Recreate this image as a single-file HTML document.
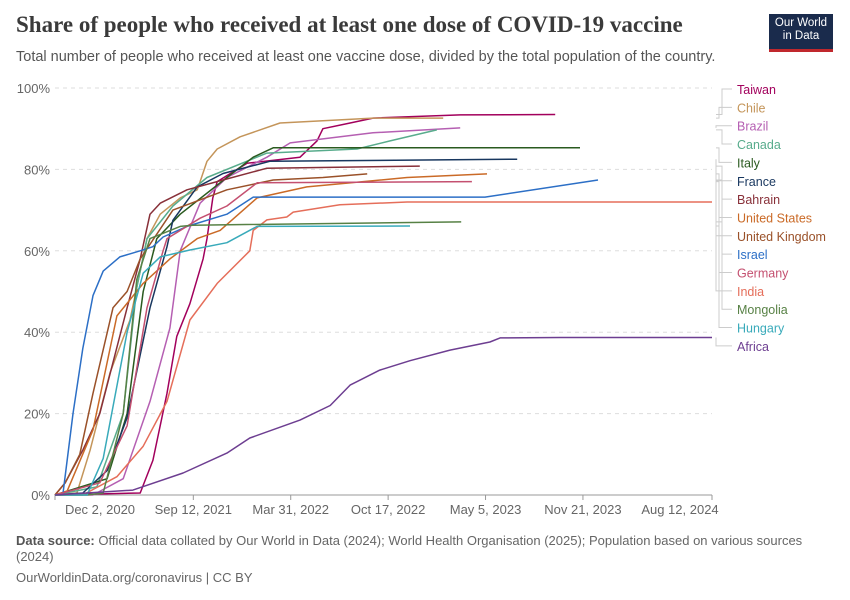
<!DOCTYPE html>
<html><head><meta charset="utf-8">
<style>
body{margin:0;background:#fff;font-family:"Liberation Sans",sans-serif;}
#wrap{position:relative;width:850px;height:600px;overflow:hidden;}
.t{position:absolute;white-space:nowrap;}
</style></head><body>
<div id="wrap">
<div class="t" style="left:16px;top:12px;font-family:'Liberation Serif',serif;font-size:23px;color:#3a3a3a;font-weight:bold;">Share of people who received at least one dose of COVID-19 vaccine</div>
<div class="t" style="left:16px;top:49px;font-size:14.5px;color:#555;">Total number of people who received at least one vaccine dose, divided by the total population of the country.</div>
<div style="position:absolute;left:769px;top:14px;width:64px;height:38px;background:#1a2b4c;border-bottom:3px solid #c0282d;color:#fff;font-size:11.5px;line-height:13px;text-align:center;padding-top:3px;box-sizing:border-box;">Our World<br>in Data</div>
<svg id="chart" width="850" height="600" style="position:absolute;left:0;top:0;"></svg>
<div class="t" style="left:16px;top:533px;font-size:13px;color:#666;line-height:16px;"><b style="color:#555">Data source:</b> Official data collated by Our World in Data (2024); World Health Organisation (2025); Population based on various sources<br>(2024)</div>
<div class="t" style="left:16px;top:570px;font-size:13px;color:#666;">OurWorldinData.org/coronavirus | CC BY</div>
</div>
<script>
const names=["Taiwan","Chile","Brazil","Canada","Italy","France","Bahrain","United States","United Kingdom","Israel","Germany","India","Mongolia","Hungary","Africa"];
const colors=["#a2005c","#c4955a","#b55fb2","#58ac8c","#2a5a1f","#18375f","#883039","#ca6a27","#9a5129","#2c6fc6","#c45070","#e56e5a","#578145","#38aaba","#6d3e91"];
const days=[
[0,175,201,230,250,277,304,312,324,333,394,503,538,550,606,653,832,1027],
[0,45,72,113,154,189,216,257,292,298,312,333,380,462,653,797],
[0,78,140,195,236,257,298,353,435,483,653,832],
[0,86,140,168,189,242,312,435,620,688,784],
[0,107,148,181,209,257,353,407,448,1078],
[0,57,107,148,195,230,242,292,345,441,949],
[0,21,57,92,148,175,195,216,271,345,435,749],
[0,25,78,127,181,236,292,339,415,517,723,887],
[0,21,51,78,119,148,175,242,353,448,550,641],
[0,16,37,57,78,99,133,175,201,222,271,353,407,883,1115],
[0,92,148,189,222,230,298,353,415,856],
[0,57,127,181,230,277,333,400,407,435,476,489,585,723,1349],
[0,66,99,140,168,195,257,283,834],
[0,66,99,148,181,216,277,353,415,729],
[0,160,263,353,400,503,565,606,667,729,811,893,914,1037,1349]];
const vals=[
[0,0.5,8.5,25,39,47,58,63,73,77,81.5,83,87,90,91.4,92.6,93.4,93.5],
[0,0.5,11,30,43,63,69,73,75,77,82,85,88,91.4,92.6,92.6],
[0,0,4,23,41,60,71.7,78,83,86.5,89,90.2],
[0,2,20,51,63,71,78,84,85,87,89.7],
[0,4,20,50,63,69,78,83,85.3,85.3],
[0,0.5,6,19,46,61,67.5,75.7,79,82,82.5],
[0,3,11,20,46,58,69,71.7,75,77.4,80.3,80.8],
[0,1,16,44,52,58,63,65,73,75.7,78,78.9],
[0,3,10,25,46,50,58,70,75,77.4,78,78.9],
[0,0,20,36,49,55,58.5,60,61,63.4,66,69,73.2,73.2,77.4],
[0,3,17,46,60,63,68,71,76.7,77],
[0,0,4.5,12,23,43,52,60,65,67.6,68.3,69.5,71.3,72,72],
[0,0,0.5,20,53,63,66,66.3,67.1],
[0,0,9,40,54.5,58.5,60.2,62,66,66.1],
[0,1.2,5.4,10.3,14,18.4,22,27,30.7,33,35.6,37.6,38.6,38.7,38.7]];
const yTicks=[0,20,40,60,80,100];
const xTickDays=[0,284,484,684,884,1084,1349];
const xTickLabels=["Dec 2, 2020","Sep 12, 2021","Mar 31, 2022","Oct 17, 2022","May 5, 2023","Nov 21, 2023","Aug 12, 2024"];
const X=d=>55+d*(657/1349), Y=v=>495-v*4.07;
const svg=document.getElementById('chart'),NS="http://www.w3.org/2000/svg";
function mk(t,a){const e=document.createElementNS(NS,t);for(const k in a)e.setAttribute(k,a[k]);svg.appendChild(e);return e;}
yTicks.forEach(v=>{
 const l=mk('line',{x1:55,x2:712,y1:Y(v),y2:Y(v),stroke:v?'#ddd':'#999','stroke-dasharray':v?'4,4':''});
 
 
 const t=mk('text',{x:50,y:Y(v)+5,'text-anchor':'end','font-size':13,fill:'#666','font-family':'Liberation Sans'});
 t.textContent=v+'%';
 
 
});
xTickDays.forEach((d,i)=>{
 const tk=mk('line',{x1:X(d),x2:X(d),y1:495,y2:500,stroke:'#999'});
 
 
 let cx=X(d); if(i==0)cx=100; if(i==xTickLabels.length-1)cx=680;
 const t=mk('text',{x:cx,y:514,'text-anchor':'middle','font-size':13,fill:'#666','font-family':'Liberation Sans'});
 t.textContent=xTickLabels[i];
 
 
});
names.forEach((n,i)=>{
 const pts=days[i].map((d,j)=>X(d).toFixed(1)+','+Y(vals[i][j]).toFixed(1)).join(' ');
 const p=mk('polyline',{points:pts,fill:'none',stroke:colors[i],'stroke-width':1.5,'stroke-linejoin':'round'});
 
 
 const ly=89+i*18.35;
 const ey=Y(vals[i][vals[i].length-1]);
 const c=mk('polyline',{points:`716,${ey} ${722-i%3*3},${ey} ${722-i%3*3},${ly} 732,${ly}`,fill:'none',stroke:'#ccc','stroke-width':1});
 
 
 const t=mk('text',{x:737,y:ly+5,'font-size':12.5,fill:colors[i],'font-family':'Liberation Sans'});
 t.textContent=n;
 
 
});
</script>
</body></html>
